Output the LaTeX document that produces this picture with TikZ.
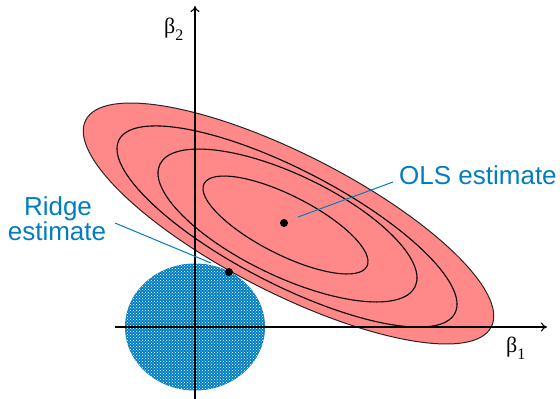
\documentclass[tikz,border=0pt]{standalone}
\usepackage{fontspec}
\setmainfont{Liberation Sans}
\newfontfamily\betafont{Liberation Serif}
\usetikzlibrary{patterns,arrows.meta}
\definecolor{olsred}{RGB}{255,136,136}
\definecolor{ridgeblue}{RGB}{0,126,192}
\begin{document}
\begin{tikzpicture}[x=1pt,y=-1pt,
  contour/.style={draw=black,line width=1.1pt},
  axisline/.style={draw=black,line width=1.1pt},
  leader/.style={draw=ridgeblue,line width=1pt},
  estdot/.style={circle,fill=black,inner sep=0pt,minimum size=8pt},
  lbl/.style={text=ridgeblue,font=\fontsize{26}{26}\selectfont,inner sep=0pt},
  betalbl/.style={font=\betafont\fontsize{22}{22}\selectfont,inner sep=0pt}]
\useasboundingbox (0,0) rectangle (560,399);
% contours of the least squares criterion
\filldraw[fill=olsred,draw=black!85,line width=1pt,rotate around={-27:(288.5,223.5)}]
  (288.5,223.5) ellipse [x radius=227.6pt, y radius=69.5pt];
\draw[contour,rotate around={-27.3:(287,226.5)}]
  (287,226.5) ellipse [x radius=189pt, y radius=57.4pt];
\draw[contour,rotate around={-25.6:(287.5,225.5)}]
  (287.5,225.5) ellipse [x radius=141.5pt, y radius=50.9pt];
\draw[contour,rotate around={-26.9:(285.5,225)}]
  (285.5,225) ellipse [x radius=91.3pt, y radius=29.5pt];
% ridge constraint region
\fill[ridgeblue] (195,327) ellipse [x radius=70pt, y radius=63.5pt];
\fill[pattern=crosshatch dots,pattern color=white] (195,327) ellipse [x radius=70pt, y radius=63.5pt];
% axes
\coordinate (xl) at (115,327);
\coordinate (xr) at (547,327);
\coordinate (yb) at (195,399);
\coordinate (yt) at (195,6);
\draw[axisline,-{To[length=6pt,width=9pt]}] (xl) -- (xr);
\draw[axisline,-{To[length=6pt,width=9pt]}] (yb) -- (yt);
% estimates
\node[estdot] (olsdot) at (284,223) {};
\node[estdot] (ridgedot) at (229,272) {};
% labels
\node[lbl,anchor=base west] (olslbl) at (399,184) {OLS estimate};
\node[lbl,anchor=base] (ridgelbl) at (58,215) {Ridge};
\node[lbl,anchor=base] (ridgelblb) at (57,240) {estimate};
\node[betalbl,anchor=base west] (b2) at (164,33) {β\raisebox{-7pt}{\fontsize{16}{16}\selectfont 2}};
\node[betalbl,anchor=base west] (b1) at (506,352) {β\raisebox{-7pt}{\fontsize{16}{16}\selectfont 1}};
% leaders
\coordinate (olsA) at (393,182);
\coordinate (olsB) at (298,217);
\coordinate (ridgeA) at (115,223);
\coordinate (ridgeB) at (211,263);
\draw[leader] (olsA) -- (olsB);
\draw[leader] (ridgeA) -- (ridgeB);
\end{tikzpicture}
\end{document}
